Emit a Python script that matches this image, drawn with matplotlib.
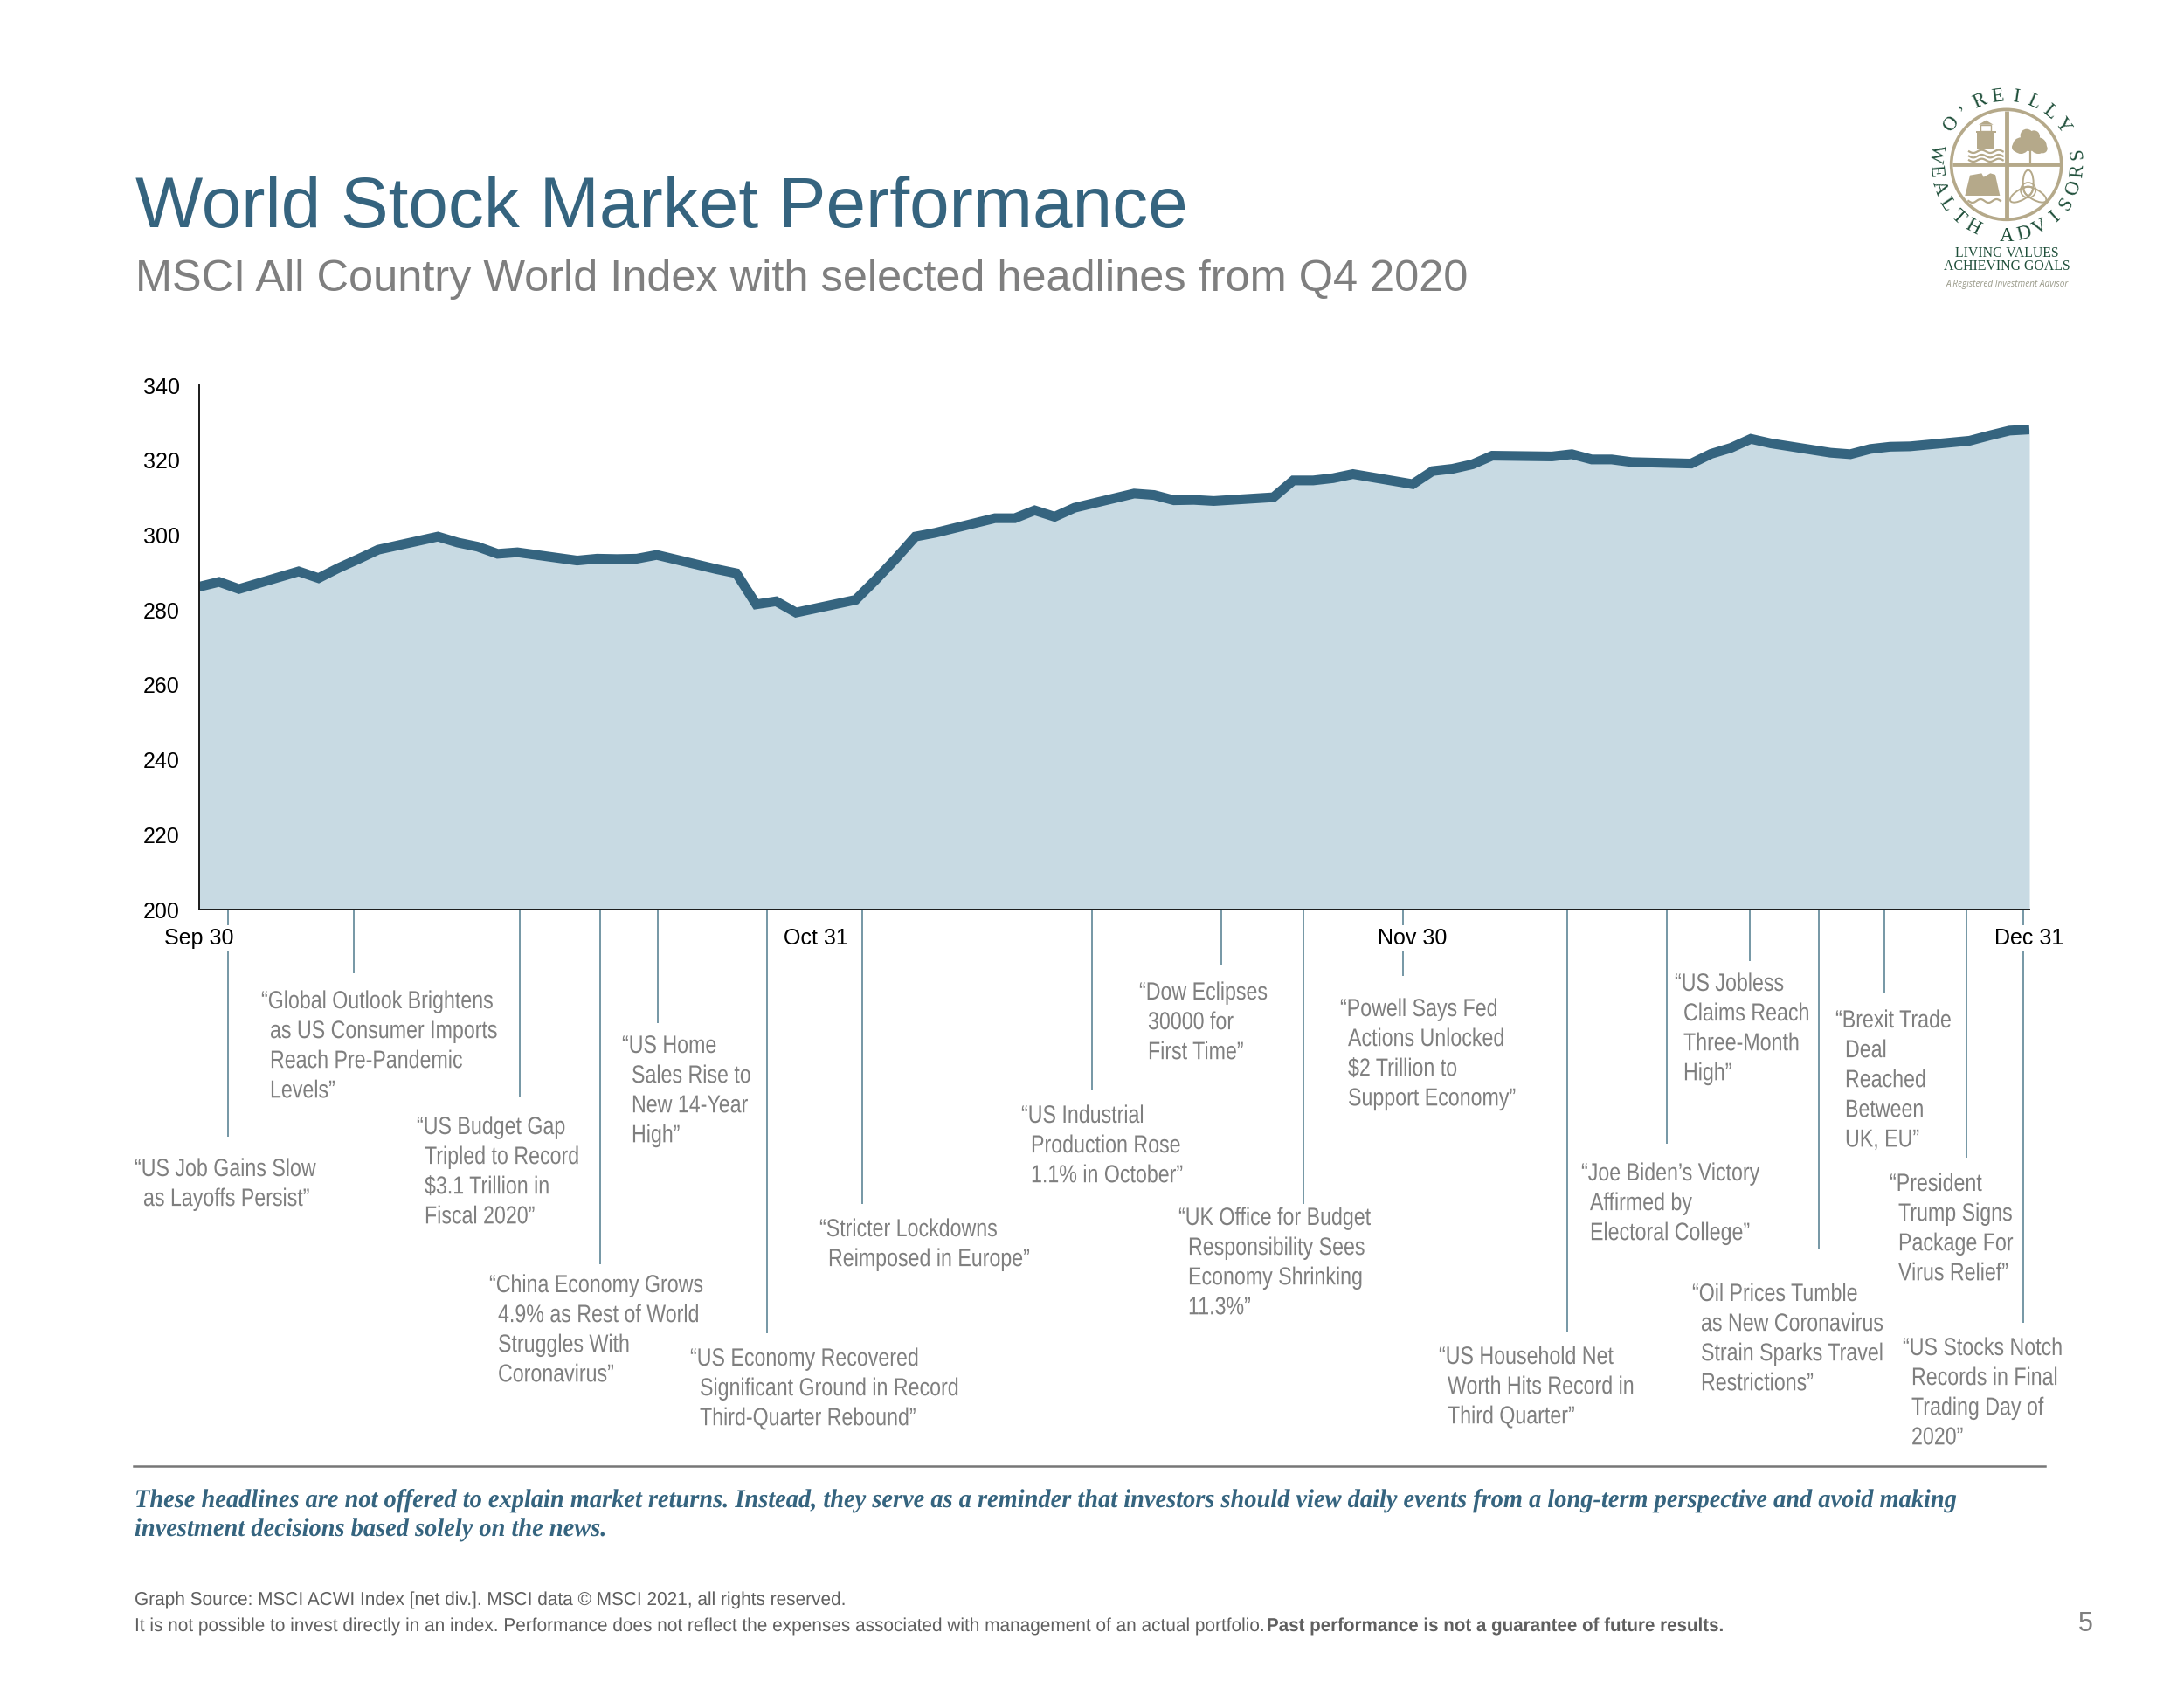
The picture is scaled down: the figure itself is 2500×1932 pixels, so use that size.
import numpy as np
import pandas as pd
import matplotlib
matplotlib.use('Agg')
import matplotlib.pyplot as plt
from matplotlib.patches import Circle, Ellipse, Polygon, Rectangle
from matplotlib.patheffects import AbstractPathEffect
from matplotlib.transforms import Affine2D

# 1. DATA
dates = pd.bdate_range('2020-09-30', '2020-12-31')
index_values = [
    286.2, 287.5, 285.6, 290.3, 288.5, 291.2, 293.6, 296.1, 299.6, 298.0,
    296.9, 295.0, 295.4, 293.2, 293.7, 293.6, 293.7, 294.7, 290.9, 289.8,
    281.5, 282.3, 279.3, 282.7, 288.0, 293.6, 299.6, 300.6, 304.5, 304.5,
    306.6, 304.9, 307.3, 311.1, 310.7, 309.3, 309.4, 309.1, 310.1, 314.6,
    314.6, 315.2, 316.3, 313.6, 317.1, 317.7, 318.9, 321.2, 321.0, 321.6,
    320.2, 320.2, 319.5, 319.1, 321.7, 323.3, 325.7, 324.5, 322.0, 321.6,
    323.0, 323.6, 323.7, 325.2, 326.6, 327.9, 328.2,
]
y_ticks = [200, 220, 240, 260, 280, 300, 320, 340]
x_tick_dates = ['2020-09-30', '2020-10-31', '2020-11-30', '2020-12-31']
x_tick_labels = ['Sep 30', 'Oct 31', 'Nov 30', 'Dec 31']

headlines = [
    ['“US Job Gains Slow', 'as Layoffs Persist”'],
    ['“Global Outlook Brightens', 'as US Consumer Imports', 'Reach Pre-Pandemic', 'Levels”'],
    ['“US Budget Gap', 'Tripled to Record', '$3.1 Trillion in', 'Fiscal 2020”'],
    ['“China Economy Grows', '4.9% as Rest of World', 'Struggles With', 'Coronavirus”'],
    ['“US Home', 'Sales Rise to', 'New 14-Year', 'High”'],
    ['“US Economy Recovered', 'Significant Ground in Record', 'Third-Quarter Rebound”'],
    ['“Stricter Lockdowns', 'Reimposed in Europe”'],
    ['“US Industrial', 'Production Rose', '1.1% in October”'],
    ['“Dow Eclipses', '30000 for', 'First Time”'],
    ['“UK Office for Budget', 'Responsibility Sees', 'Economy Shrinking', '11.3%”'],
    ['“Powell Says Fed', 'Actions Unlocked', '$2 Trillion to', 'Support Economy”'],
    ['“US Household Net', 'Worth Hits Record in', 'Third Quarter”'],
    ['“Joe Biden’s Victory', 'Affirmed by', 'Electoral College”'],
    ['“US Jobless', 'Claims Reach', 'Three-Month', 'High”'],
    ['“Oil Prices Tumble', 'as New Coronavirus', 'Strain Sparks Travel', 'Restrictions”'],
    ['“Brexit Trade', 'Deal', 'Reached', 'Between', 'UK, EU”'],
    ['“President', 'Trump Signs', 'Package For', 'Virus Relief”'],
    ['“US Stocks Notch', 'Records in Final', 'Trading Day of', '2020”'],
]
# page pixels: first line x, following lines x, first line centre y
head_pos = [
    (154, 164, 1339), (299, 309, 1147), (477, 486, 1291), (560, 570, 1472),
    (712, 723, 1198), (790, 801, 1556), (938, 948, 1408), (1169, 1180, 1278),
    (1304, 1314, 1137), (1349, 1360, 1395), (1534, 1543, 1156), (1647, 1657, 1554),
    (1810, 1820, 1344), (1917, 1927, 1127), (1937, 1947, 1482), (2101, 2112, 1169),
    (2163, 2173, 1356), (2178, 2188, 1544),
]
# page pixels: leader x, leader end y
leaders = [
    (261, 1301), (405, 1114), (595, 1255), (687, 1447), (753, 1171), (878, 1526),
    (987, 1378), (1250, 1247), (1398, 1104), (1492, 1378), (1606, 1117), (1794, 1524),
    (1908, 1309), (2003, 1100), (2082, 1430), (2157, 1137), (2251, 1325), (2316, 1514),
]

NAVY = '#35647f'
FILL = '#c8dae3'
GREY = '#7f7f7f'
TEAL = '#6a8f9e'
TAN = '#b5a98a'
GREEN = '#1f4f3a'
FOOT = '#5f5f5f'

SANS = ['Liberation Sans', 'DejaVu Sans']
SERIF = ['Liberation Serif', 'DejaVu Serif']
W, H = 2500, 1932


# no narrow font is installed, so squeeze the glyphs sideways around the text anchor
class Squeeze(AbstractPathEffect):
    def __init__(self, x_anchor, factor):
        super().__init__()
        self.x_anchor = x_anchor
        self.factor = factor

    def draw_path(self, renderer, gc, tpath, affine, rgbFace=None):
        squeeze = Affine2D().translate(-self.x_anchor, 0).scale(self.factor, 1).translate(self.x_anchor, 0)
        renderer.draw_path(gc, tpath, affine + squeeze, rgbFace)


# 2. FIGURE SETUP
fig = plt.figure(figsize=(W / 100, H / 100), dpi=100, facecolor='white')
page = fig.add_axes([0, 0, 1, 1], zorder=0)
page.set_xlim(0, W)
page.set_ylim(H, 0)
page.axis('off')


def narrow_text(x, y, s, factor, family=SANS, **kw):
    t = page.text(x, y, s, ha='left', va='baseline', fontfamily=family, **kw)
    t.set_path_effects([Squeeze(x, factor)])
    return t


# 3. CHART
L, R, T, B = 228, 2323, 441, 1041
ax = fig.add_axes([L / W, 1 - B / H, (R - L) / W, (B - T) / H], zorder=2)
ax.patch.set_alpha(0)
ax.fill_between(dates, index_values, 200, color=FILL, lw=0)
ax.plot(dates, index_values, color=NAVY, lw=8, solid_joinstyle='miter',
        solid_capstyle='butt')
ax.set_xlim(pd.Timestamp('2020-09-30'), pd.Timestamp('2020-12-31'))
ax.set_ylim(200, 340)
for side in ['top', 'right']:
    ax.spines[side].set_visible(False)
for side in ['left', 'bottom']:
    ax.spines[side].set_linewidth(1.4)
    ax.spines[side].set_color('#1a1a1a')
ax.set_yticks(y_ticks)
ax.set_xticks(pd.to_datetime(x_tick_dates))
ax.set_xticklabels(x_tick_labels, fontfamily=SANS, fontsize=18, color='black',
                   bbox=dict(facecolor='white', edgecolor='none', pad=2))
ax.set_yticklabels(y_ticks, fontfamily=SANS, fontsize=18, color='black')
ax.tick_params(axis='both', length=0)
ax.tick_params(axis='x', pad=15)
ax.tick_params(axis='y', pad=16)

# 4. HEADLINES
for (lx, end_y) in leaders:
    page.plot([lx, lx], [B, end_y], color=TEAL, lw=1.3, solid_capstyle='butt')

PITCH = 34.1
for lines, (x0, x1, y0) in zip(headlines, head_pos):
    for i, s in enumerate(lines):
        narrow_text(x0 if i == 0 else x1, y0 + i * PITCH + 7, s, 0.815, color=GREY, fontsize=20.5)

# 5. TITLES AND FOOTER
page.text(155, 260, 'World Stock Market Performance', color=NAVY, fontfamily=SANS,
          fontsize=58.95, va='baseline')
page.text(155, 333, 'MSCI All Country World Index with selected headlines from Q4 2020',
          color=GREY, fontfamily=SANS, fontsize=36.35, va='baseline')

page.plot([153, 2341], [1678, 1678], color='#777777', lw=1.8)
narrow_text(154, 1725, 'These headlines are not offered to explain market returns. Instead, they '
            'serve as a reminder that investors should view daily events from a long-term '
            'perspective and avoid making', 0.951, family=SERIF, color=NAVY, fontsize=21.5,
            fontweight='bold', fontstyle='italic')
narrow_text(154, 1758, 'investment decisions based solely on the news.', 0.951, family=SERIF,
            color=NAVY, fontsize=21.5, fontweight='bold', fontstyle='italic')

narrow_text(154, 1837, 'Graph Source: MSCI ACWI Index [net div.]. MSCI data © MSCI 2021, all rights reserved.',
            0.967, color=FOOT, fontsize=15.5)
narrow_text(154, 1867, 'It is not possible to invest directly in an index. Performance does not reflect '
            'the expenses associated with management of an actual portfolio.',
            0.967, color=FOOT, fontsize=15.5)
narrow_text(1450, 1867, 'Past performance is not a guarantee of future results.',
            0.955, color=FOOT, fontsize=15.5, fontweight='bold')
page.text(2387, 1867, '5', color=GREY, fontfamily=SANS, fontsize=22, ha='center', va='baseline')


# 6. LOGO (coordinates are zoom units of the logo crop)
def zx(z):
    return 2150 + z / 3


def zy(z):
    return 70 + z / 3


def wave(x0, x1, y, amp=5, cycles=2, lw=1.6):
    zs = np.linspace(x0, x1, 60)
    page.plot(zx(zs), zy(y + amp * np.sin((zs - x0) / (x1 - x0) * cycles * 2 * np.pi)),
              color=TAN, lw=lw)


cx, cy = 440, 355
page.add_patch(Circle((zx(cx), zy(cy)), 63, fill=False, edgecolor=TAN, lw=2.6))
page.plot([zx(cx), zx(cx)], [zy(170), zy(540)], color=TAN, lw=3.5, solid_capstyle='butt')
page.plot([zx(255), zx(625)], [zy(cy), zy(cy)], color=TAN, lw=3.5, solid_capstyle='butt')
# lighthouse
page.add_patch(Rectangle((zx(340), zy(240)), 58 / 3, 60 / 3, color=TAN, lw=0))
page.add_patch(Rectangle((zx(335), zy(240)), 70 / 3, 7 / 3, color=TAN, lw=0))
page.add_patch(Rectangle((zx(350), zy(218)), 38 / 3, 22 / 3, fill=False, edgecolor=TAN, lw=1))
page.add_patch(Polygon([(zx(345), zy(218)), (zx(370), zy(203)), (zx(395), zy(218))], color=TAN, lw=0))
for wy in [310, 326, 340]:
    wave(312, 428, wy)
# tree
for bx, by, br in [(520, 275, 34), (490, 290, 28), (550, 290, 28), (510, 255, 22), (535, 258, 20),
                   (475, 295, 16), (565, 300, 16)]:
    page.add_patch(Circle((zx(bx), zy(by)), br / 3, color=TAN, lw=0))
page.plot([zx(522), zx(522)], [zy(300), zy(346)], color=TAN, lw=1.6)
# book
page.add_patch(Polygon([(zx(x), zy(y)) for x, y in [(315, 392), (355, 385), (362, 398), (385, 385),
                                                    (402, 390), (418, 462), (298, 462)]],
                       color=TAN, lw=0))
wave(310, 420, 480, amp=6, cycles=2)
# trinity knot
for angle, ex, ey in [(0, 515, 418), (60, 492, 458), (-60, 538, 458)]:
    page.add_patch(Ellipse((zx(ex), zy(ey)), 30 / 3 * 1.2, 88 / 3, angle=angle, fill=False,
                           edgecolor=TAN, lw=1.4))
page.add_patch(Circle((zx(515), zy(443)), 26 / 3, fill=False, edgecolor=TAN, lw=1.2))


def arc_text(word, a_start, a_end, radius, top=True):
    angles = np.linspace(a_start, a_end, len(word))
    for ch, a in zip(word, angles):
        px = zx(cx) + radius * np.cos(np.radians(a))
        py = zy(cy) - radius * np.sin(np.radians(a))
        rot = a - 90 if top else a + 90
        page.text(px, py, ch, color=GREEN, fontfamily=SERIF, fontsize=16.5, rotation=rot,
                  rotation_mode='anchor', ha='center', va='center')


arc_text("O’REILLY", 144, 35, 78)
arc_text('WEALTH ADVISORS', 171, 369, 82, top=False)

page.text(zx(443), zy(660), 'LIVING VALUES', color=GREEN, fontfamily=SERIF, fontsize=11.4,
          ha='center', va='center')
page.text(zx(443), zy(706), 'ACHIEVING GOALS', color=GREEN, fontfamily=SERIF, fontsize=11.4,
          ha='center', va='center')
page.text(zx(443), zy(767), 'A Registered Investment Advisor', color='#9a9a8a',
          fontfamily=['Open Sans', 'DejaVu Sans'], fontstyle='italic', fontsize=7.2,
          ha='center', va='center')

fig.savefig('out.png', dpi=100, facecolor='white')
